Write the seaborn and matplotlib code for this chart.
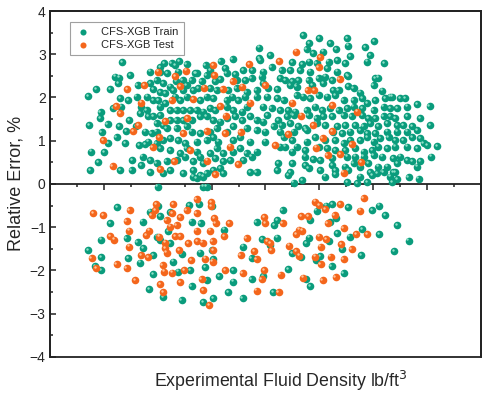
import numpy as np
import pandas as pd
import matplotlib

matplotlib.use("Agg")
import matplotlib.pyplot as plt
import matplotlib.transforms as mtransforms
from matplotlib.patches import Rectangle
from matplotlib.ticker import MultipleLocator
import seaborn as sns

TRAIN_LABEL = "CFS-XGB Train"
TEST_LABEL = "CFS-XGB Test"
GREEN = "#0a9c7c"
ORANGE = "#f4661c"
GREEN_HI = "#8fe0c8"
ORANGE_HI = "#ffc49a"

# (density, relative error %).
# The x axis has no tick labels, so density runs over an arbitrary 0-160 span.
train_above = [
    (26.9, 2.81), (40.8, 2.71), (42.3, 2.79), (45.2, 2.79), (46.4, 2.75), (47.9, 2.84),
    (50.7, 2.77), (53.8, 2.57), (57.8, 2.75), (63.4, 2.84), (67.8, 2.88), (77.7, 2.91),
    (77.6, 3.15),
    (37.1, 2.60), (40.8, 2.60), (43.6, 2.56), (47.7, 2.60), (46.8, 2.38), (49.3, 2.40),
    (52.6, 2.40), (54.5, 2.56), (56.3, 2.37), (58.2, 2.52), (59.4, 2.64), (65.0, 2.67),
    (65.6, 2.56), (68.7, 2.54), (71.8, 2.64), (75.1, 2.64), (24.1, 2.48), (25.8, 2.46),
    (29.7, 2.52), (25.4, 2.33), (32.6, 2.29), (37.1, 2.33), (39.6, 2.40), (42.1, 2.33),
    (44.6, 2.25), (50.7, 2.29), (61.3, 2.37), (63.1, 2.42), (69.3, 2.40), (72.4, 2.40),
    (74.9, 2.44),
    (17.3, 2.19), (22.3, 2.19), (14.2, 2.03), (26.2, 1.99), (29.1, 1.94), (36.1, 2.02),
    (38.4, 2.19), (40.8, 2.13), (42.7, 2.10), (45.8, 2.17), (49.5, 2.17), (53.2, 2.17),
    (55.1, 2.21), (59.4, 2.21), (61.9, 2.17), (66.2, 2.17), (69.3, 2.21), (73.0, 2.13),
    (76.7, 2.17), (32.2, 2.02), (38.4, 1.94), (40.2, 1.94), (42.7, 1.87), (46.4, 2.02),
    (48.3, 1.94), (50.7, 2.02), (55.7, 1.94), (58.2, 2.02), (60.6, 1.98), (65.6, 1.94),
    (67.5, 2.02), (69.9, 1.94), (72.4, 2.02), (76.7, 2.02), (23.5, 1.75), (26.4, 1.79),
    (34.0, 1.79), (35.9, 1.71), (40.8, 1.79), (44.6, 1.71),
    (18.8, 1.66), (18.6, 1.52), (14.6, 1.36), (21.4, 1.39), (25.8, 1.34), (29.3, 1.48),
    (31.9, 1.33), (33.4, 1.63), (36.5, 1.56), (38.4, 1.56), (40.8, 1.59), (47.0, 1.71),
    (49.5, 1.71), (52.0, 1.71), (54.5, 1.71), (56.9, 1.67), (59.4, 1.75), (61.3, 1.71),
    (65.6, 1.79), (68.1, 1.71), (71.2, 1.67), (73.0, 1.79), (39.6, 1.40), (42.1, 1.36),
    (44.6, 1.48), (47.0, 1.48), (49.5, 1.48), (52.6, 1.48), (55.7, 1.56), (58.2, 1.56),
    (60.6, 1.48), (63.1, 1.44), (65.6, 1.52), (68.7, 1.56), (71.2, 1.48), (74.3, 1.56),
    (76.7, 1.48),
    (19.2, 1.19), (21.7, 0.94), (24.8, 1.09), (27.9, 0.94), (28.2, 1.22), (35.3, 1.21),
    (37.8, 1.17), (39.6, 1.21), (43.3, 1.29), (47.0, 1.29), (50.7, 1.33), (52.6, 1.21),
    (55.7, 1.17), (59.4, 1.21), (61.9, 1.29), (65.6, 1.21), (68.1, 1.33), (73.0, 1.29),
    (76.7, 1.25), (36.5, 0.98), (39.6, 0.94), (42.1, 1.02), (44.6, 1.06), (47.7, 1.02),
    (50.1, 0.94), (54.5, 0.98), (58.2, 1.02), (60.6, 1.09), (62.5, 0.98), (68.1, 1.02),
    (70.6, 1.09), (74.3, 0.98),
    (15.2, 0.75), (20.1, 0.73), (30.6, 0.55), (34.4, 0.63), (33.0, 0.90), (35.3, 0.92),
    (40.8, 0.82), (44.6, 0.79), (48.3, 0.71), (50.7, 0.82), (54.5, 0.75), (55.7, 0.63),
    (59.4, 0.71), (61.9, 0.82), (64.4, 0.71), (68.1, 0.75), (70.6, 0.82), (73.0, 0.71),
    (76.7, 0.75), (17.9, 0.50), (37.1, 0.55), (39.6, 0.48), (43.3, 0.52), (47.0, 0.55),
    (50.1, 0.63), (53.2, 0.52), (56.9, 0.48), (61.3, 0.59), (64.4, 0.52), (66.8, 0.55),
    (71.8, 0.55), (74.9, 0.63),
    (14.9, 0.32), (26.0, 0.32), (30.3, 0.32), (33.8, 0.44), (37.1, 0.28), (42.1, 0.25),
    (44.6, 0.32), (49.5, 0.25), (53.2, 0.32), (55.7, 0.21), (58.2, 0.25), (60.6, 0.32),
    (63.1, 0.36), (64.4, 0.25), (53.2, 0.17), (54.5, 0.13), (56.9, 0.17), (74.3, 0.28),
    (76.7, 0.28), (40.0, -0.06), (56.9, -0.06), (58.2, -0.06),
    (94.1, 3.45), (100.0, 3.37), (110.4, 3.38), (110.6, 3.20), (104.0, 3.25), (96.3, 3.25),
    (95.3, 3.11), (120.3, 3.31), (117.0, 3.17), (118.9, 2.98), (97.8, 3.02), (101.5, 3.06),
    (106.2, 3.12), (111.4, 2.96), (81.7, 2.98),
    (89.8, 2.81), (93.5, 2.77), (96.3, 2.83), (99.0, 2.79), (103.4, 2.83), (106.5, 2.87),
    (109.6, 2.79), (117.6, 2.83), (124.1, 2.79), (82.3, 2.71), (86.0, 2.64), (89.1, 2.64),
    (92.9, 2.64), (96.6, 2.60), (102.8, 2.67), (106.5, 2.60), (110.2, 2.52), (78.0, 2.87),
    (79.2, 2.60), (78.6, 2.48), (85.4, 2.44), (87.3, 2.40), (89.8, 2.37), (92.2, 2.40),
    (96.0, 2.40), (99.7, 2.44), (102.1, 2.48), (104.6, 2.40), (110.8, 2.50), (120.7, 2.44),
    (121.9, 2.46), (79.2, 2.33), (81.1, 2.21), (84.2, 2.19), (89.1, 2.29), (91.6, 2.25),
    (97.2, 2.29), (101.5, 2.33), (105.2, 2.17), (107.1, 2.17), (110.8, 2.27), (112.7, 2.21),
    (115.1, 2.11), (120.1, 2.29), (123.2, 2.16), (126.3, 2.02),
    (80.5, 2.02), (84.2, 1.98), (86.7, 1.94), (91.6, 2.06), (94.1, 2.02), (96.6, 1.98),
    (99.7, 2.06), (102.8, 2.02), (105.9, 2.06), (109.0, 1.94), (112.7, 1.94), (115.8, 1.98),
    (117.6, 1.87), (120.7, 1.94), (124.4, 1.98), (126.9, 2.02), (130.0, 1.98), (131.9, 1.98),
    (136.2, 1.84), (140.9, 1.80), (79.2, 1.79), (82.3, 1.75), (85.4, 1.71), (88.5, 1.71),
    (91.0, 1.67), (95.3, 1.71), (98.4, 1.79), (100.9, 1.71), (104.0, 1.75), (107.1, 1.71),
    (110.2, 1.75), (112.7, 1.79), (115.8, 1.75), (120.1, 1.71), (123.8, 1.79), (126.3, 1.75),
    (128.8, 1.75), (132.5, 1.79),
    (80.5, 1.59), (84.8, 1.48), (87.9, 1.56), (90.4, 1.59), (96.0, 1.59), (99.0, 1.52),
    (101.5, 1.56), (104.6, 1.56), (109.0, 1.59), (112.0, 1.56), (115.8, 1.59), (118.2, 1.52),
    (120.7, 1.52), (123.8, 1.56), (126.3, 1.56), (128.1, 1.52), (132.5, 1.56), (137.4, 1.52),
    (79.2, 1.44), (83.0, 1.33), (86.0, 1.36), (89.1, 1.40), (92.2, 1.33), (94.7, 1.29),
    (99.0, 1.40), (102.1, 1.36), (106.5, 1.33), (109.6, 1.36), (113.3, 1.36), (116.4, 1.33),
    (118.9, 1.40), (121.9, 1.33), (125.0, 1.40), (128.8, 1.36), (131.2, 1.36), (134.3, 1.33),
    (141.1, 1.36), (79.9, 1.21), (85.4, 1.21), (90.4, 1.21), (95.3, 1.25), (105.2, 1.21),
    (108.3, 1.17), (111.4, 1.21), (115.1, 1.25), (117.6, 1.17), (120.7, 1.17), (125.0, 1.21),
    (128.8, 1.21), (132.5, 1.21), (136.2, 1.25),
    (79.9, 0.98), (86.7, 1.09), (89.8, 1.02), (91.6, 0.86), (95.3, 0.98), (98.4, 1.09),
    (102.1, 1.02), (105.9, 1.02), (109.0, 0.94), (111.4, 1.02), (115.1, 1.02), (117.6, 1.09),
    (120.1, 0.98), (122.6, 1.06), (125.7, 1.09), (128.1, 1.02), (131.2, 1.02), (134.3, 1.09),
    (137.4, 1.06), (139.9, 0.90), (143.6, 0.88), (85.4, 0.86), (87.3, 0.86), (89.8, 0.75),
    (94.7, 0.79), (99.7, 0.86), (102.8, 0.82), (105.9, 0.79), (109.6, 0.79), (113.3, 0.82),
    (116.4, 0.75), (119.5, 0.79), (121.9, 0.86), (125.0, 0.82), (128.1, 0.86), (132.5, 0.86),
    (136.2, 0.82), (138.7, 0.94),
    (94.7, 0.63), (97.8, 0.57), (100.3, 0.55), (104.6, 0.59), (110.2, 0.63), (113.3, 0.63),
    (116.4, 0.63), (120.1, 0.67), (123.2, 0.63), (127.5, 0.59), (130.0, 0.63), (134.3, 0.52),
    (137.4, 0.52), (141.5, 0.63), (84.8, 0.48), (89.8, 0.48), (94.7, 0.44), (104.6, 0.44),
    (109.6, 0.40), (112.7, 0.48), (115.1, 0.40), (118.2, 0.48), (121.9, 0.40), (125.0, 0.40),
    (128.8, 0.48), (132.5, 0.55), (136.2, 0.40), (84.2, 0.32), (89.1, 0.28), (96.0, 0.36),
    (100.3, 0.32), (105.9, 0.32), (110.8, 0.32), (118.9, 0.28), (123.8, 0.28), (127.5, 0.28),
    (88.5, 0.21), (93.5, 0.09), (102.1, 0.17), (105.9, 0.23), (110.2, 0.05), (115.1, 0.17),
    (119.5, 0.21), (121.3, 0.25), (126.3, 0.17), (128.1, 0.28), (133.1, 0.15), (136.8, 0.12),
    (90.4, 0.03), (113.9, 0.02), (117.6, 0.05), (126.9, 0.05), (128.8, 0.11),
]

train_below = [
    (25.0, -0.54), (22.3, -0.91), (34.4, -0.87), (37.1, -0.64), (40.2, -0.52), (40.8, -0.74),
    (44.6, -0.66), (51.7, -0.49), (55.5, -0.46), (52.6, -0.87), (55.9, -0.91), (60.0, -0.52),
    (18.9, -1.29), (28.5, -1.26), (32.6, -1.35), (34.7, -1.49), (39.9, -1.22), (40.8, -1.29),
    (44.6, -1.37), (43.9, -1.10), (38.4, -1.64), (45.8, -1.80), (48.9, -1.62), (55.7, -1.59),
    (60.0, -1.53), (60.6, -1.74), (57.6, -1.93), (52.0, -1.99), (47.7, -2.03), (38.4, -2.08),
    (58.2, -2.22), (52.6, -2.36), (36.9, -2.43), (42.1, -2.61), (48.9, -2.68), (56.9, -2.74),
    (60.6, -2.64), (14.1, -1.54), (18.9, -1.70), (16.7, -1.91), (18.9, -2.00), (29.0, -1.72),
    (33.4, -1.82), (64.7, -1.06), (71.8, -1.45), (74.9, -1.72), (76.7, -0.89), (68.1, -2.00),
    (62.9, -2.13), (68.1, -2.26), (74.9, -2.20), (71.5, -2.64), (66.2, -2.51), (78.7, -1.27),
    (79.2, -2.13),
    (86.4, -0.60), (84.2, -0.83), (83.2, -0.95), (84.2, -1.24), (96.6, -0.83), (99.0, -0.62),
    (102.4, -0.50), (104.6, -0.47), (110.8, -0.54), (106.2, -0.79), (104.0, -0.89),
    (106.7, -1.13), (111.2, -1.22), (115.8, -1.04), (119.6, -0.60), (122.1, -0.50),
    (124.5, -0.72), (128.9, -0.96), (133.1, -1.31), (122.1, -1.16), (127.8, -1.55),
    (115.4, -1.64), (108.3, -1.51), (103.4, -1.33), (96.3, -1.24), (95.0, -1.37), (90.0, -1.60),
    (93.1, -1.70), (100.3, -1.67), (98.7, -1.76), (104.5, -1.90), (88.4, -1.97), (109.0, -2.07),
    (95.1, -2.20), (96.6, -2.37), (82.7, -2.50), (81.5, -1.41),
]

test_above = [
    (60.6, 2.75), (73.9, 2.77), (50.5, 2.62), (40.2, 2.60), (46.4, 2.50), (61.0, 2.52),
    (67.8, 2.38), (35.0, 2.28), (28.8, 2.20), (48.3, 2.27), (57.3, 2.23), (64.1, 2.20),
    (71.4, 2.25), (34.0, 1.88), (24.5, 1.80), (45.2, 1.93), (53.2, 1.97), (74.3, 1.88),
    (63.1, 1.80), (26.0, 1.63), (65.2, 1.58), (51.0, 1.53), (42.7, 1.46), (32.7, 1.36),
    (19.8, 1.02), (30.9, 1.23), (40.6, 1.08), (49.5, 1.17), (58.2, 1.23), (64.9, 1.17),
    (70.8, 1.19), (38.1, 0.85), (66.8, 0.86), (52.0, 0.79), (23.3, 0.42), (46.2, 0.52),
    (58.4, 0.54), (69.9, 0.45), (40.8, 0.35), (61.3, 0.23),
    (91.4, 3.06), (100.3, 2.94), (85.2, 2.84), (99.7, 2.71), (107.5, 2.42), (79.9, 2.29),
    (95.6, 2.17), (98.1, 2.17), (89.8, 1.88), (104.6, 1.83), (114.1, 1.67), (93.2, 1.58),
    (97.6, 1.36), (104.6, 1.23), (88.3, 1.16), (83.6, 0.89), (101.2, 1.06), (98.7, 0.84),
    (112.0, 0.92), (107.7, 0.69), (103.1, 0.67), (115.4, 0.50), (109.0, 0.26),
]

test_below = [
    (16.0, -0.68), (19.8, -0.72), (29.6, -0.60), (28.5, -0.86), (29.3, -1.08), (22.5, -1.20),
    (23.8, -1.29), (29.5, -1.45), (33.8, -1.64), (36.5, -1.70), (35.6, -1.18), (36.9, -1.08),
    (39.4, -0.47), (40.5, -1.22), (39.0, -0.60), (37.8, -0.72), (45.8, -0.46), (45.5, -0.68),
    (43.3, -0.83), (47.0, -0.95), (44.6, -0.99), (48.3, -0.77), (50.7, -0.60), (54.5, -0.35),
    (54.5, -0.68), (59.7, -0.42), (59.7, -0.51), (61.0, -0.79), (61.5, -0.91), (59.4, -1.08),
    (54.5, -1.08), (46.4, -1.20), (48.3, -1.20), (51.4, -1.37), (54.7, -1.33), (56.7, -1.36),
    (60.4, -1.33), (42.7, -1.36), (42.9, -1.49), (43.3, -1.59), (47.9, -1.54), (52.4, -1.77),
    (57.6, -1.73), (60.4, -1.80), (60.6, -1.54), (15.5, -1.72), (17.1, -1.95), (24.8, -1.85),
    (28.5, -1.95), (31.6, -2.22), (41.8, -1.87), (42.3, -2.03), (45.5, -2.05), (49.8, -1.99),
    (56.3, -2.20), (40.8, -2.31), (42.1, -2.51), (48.3, -2.28), (56.9, -2.45), (59.0, -2.81),
    (66.4, -0.91), (64.6, -1.20), (73.0, -1.26), (70.8, -1.64), (75.8, -1.56), (76.7, -1.74),
    (71.5, -2.07), (76.7, -2.47), (65.0, -1.99), (79.8, -0.91), (79.5, -0.76), (80.5, -1.33),
    (79.5, -2.00), (78.6, -2.20),
    (86.4, -0.91), (81.7, -1.37), (82.0, -1.54), (88.9, -1.43), (91.4, -1.16), (92.6, -1.06),
    (93.5, -1.08), (93.1, -0.74), (95.7, -0.74), (98.4, -0.41), (99.9, -0.49), (102.1, -0.59),
    (107.7, -0.47), (105.7, -0.72), (103.1, -0.91), (109.0, -1.03), (113.5, -1.16),
    (115.1, -0.62), (116.4, -0.33), (117.6, -1.16), (99.8, -1.22), (102.4, -1.27),
    (100.5, -1.45), (98.3, -1.68), (100.5, -1.85), (104.2, -1.68), (108.2, -1.39),
    (109.0, -1.74), (112.0, -1.50), (91.4, -1.56), (92.5, -1.66), (85.6, -2.10), (94.0, -2.17),
    (101.2, -2.23), (106.0, -2.16), (84.9, -2.51),
]


def to_frame(points, label):
    arr = np.array(points)
    return pd.DataFrame({"density": arr[:, 0], "error": arr[:, 1], "set": label})


def main():
    train = pd.concat([to_frame(train_above, TRAIN_LABEL), to_frame(train_below, TRAIN_LABEL)])
    test = pd.concat([to_frame(test_above, TEST_LABEL), to_frame(test_below, TEST_LABEL)])

    sns.set_style("white")
    plt.rcParams["font.family"] = ["Liberation Sans", "DejaVu Sans"]

    fig, ax = plt.subplots(figsize=(4.84, 3.93), dpi=100)
    fig.subplots_adjust(left=0.103, right=0.994, top=0.972, bottom=0.092)

    # small light spot up-left of each ball, like the shaded markers of the original
    shine = mtransforms.offset_copy(ax.transData, fig=fig, x=-0.9, y=0.9, units="points")

    z = 3
    for df, color, hi in [(train, GREEN, GREEN_HI), (test, ORANGE, ORANGE_HI)]:
        sns.scatterplot(
            data=df, x="density", y="error", color=color, s=30, linewidth=0,
            label=df["set"].iloc[0], ax=ax, zorder=z,
        )
        ax.scatter(df["density"], df["error"], s=3, color=hi, linewidth=0,
                   transform=shine, zorder=z + 0.5)
        z += 1

    ax.set_xlim(0, 160)
    ax.set_ylim(-4, 4)
    ax.xaxis.set_major_locator(MultipleLocator(20))
    ax.xaxis.set_minor_locator(MultipleLocator(10))
    ax.yaxis.set_major_locator(MultipleLocator(1))
    ax.yaxis.set_minor_locator(MultipleLocator(0.5))

    for side in ["top", "right", "left"]:
        ax.spines[side].set_linewidth(1.3)
        ax.spines[side].set_color("#222222")
    ax.spines["bottom"].set_position(("data", 0))
    ax.spines["bottom"].set_linewidth(1.3)
    ax.spines["bottom"].set_color("#222222")
    ax.add_patch(Rectangle((0, 0), 1, 1, transform=ax.transAxes, fill=False,
                           lw=1.3, edgecolor="#222222", clip_on=False, zorder=6))

    ax.tick_params(axis="x", which="both", direction="out", labelbottom=False,
                   bottom=True, color="#222222", width=1.1)
    ax.tick_params(axis="x", which="major", length=4.5)
    ax.tick_params(axis="x", which="minor", length=2.5)
    ax.tick_params(axis="y", which="both", direction="in", left=True, color="#222222",
                   width=1.1, labelsize=10, pad=3)
    ax.tick_params(axis="y", which="major", length=4)
    ax.tick_params(axis="y", which="minor", length=2.5)

    ax.set_xlabel("Experimental Fluid Density lb/ft$^3$", fontsize=12.8)
    ax.xaxis.set_label_coords(0.535, -0.035)
    ax.set_ylabel("Relative Error, %", fontsize=13, labelpad=4)

    leg = ax.legend(loc="upper left", bbox_to_anchor=(0.046, 0.968), fontsize=8,
                    frameon=True, fancybox=False, edgecolor="#888888",
                    markerscale=0.8, handletextpad=0.9, borderpad=0.45,
                    labelspacing=0.25, handlelength=1.5, borderaxespad=0)
    leg.get_frame().set_linewidth(0.8)

    fig.savefig("out.png", dpi=100)
    plt.close(fig)


if __name__ == "__main__":
    main()
